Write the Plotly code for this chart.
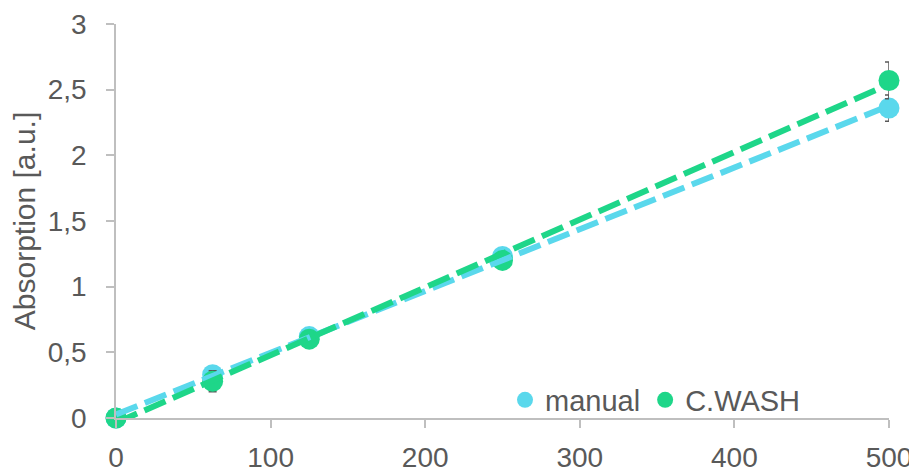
import numpy as np
import plotly.graph_objects as go

concentration = [0, 62.5, 125, 250, 500]
manual = [0.0, 0.33, 0.62, 1.23, 2.36]
manual_err = [0.01, 0.03, 0.02, 0.03, 0.10]
cwash = [0.0, 0.28, 0.60, 1.20, 2.57]
cwash_err = [0.01, 0.08, 0.02, 0.03, 0.14]

x_ticks = [0, 100, 200, 300, 400, 500]
y_ticks = [0, 0.5, 1, 1.5, 2, 2.5, 3]

C_MAN = "#5AD8EC"
C_CW = "#1ED689"
TXT = "#595959"
AX = "#BFBFBF"

fig = go.Figure()

def trend(xs, ys):
    k, b = np.polyfit(xs, ys, 1)
    xx = np.array([min(xs), max(xs)])
    return xx, k * xx + b

for name, ys, err, col in [("manual", manual, manual_err, C_MAN), ("C.WASH", cwash, cwash_err, C_CW)]:
    fig.add_trace(go.Scatter(
        x=concentration, y=ys, mode="markers", name=name,
        marker=dict(color=col, size=21),
        error_y=dict(type="data", array=err, color=TXT, thickness=1.5, width=4),
        cliponaxis=False,
    ))

for ys, col in [(manual, C_MAN), (cwash, C_CW)]:
    tx, ty = trend(concentration, ys)
    fig.add_trace(go.Scatter(
        x=tx, y=ty, mode="lines", showlegend=False,
        line=dict(color=col, width=6, dash="23px,8px"),
        cliponaxis=False,
    ))

# the page body has an 8px margin, so the figure is sized to the visible area
fig.update_layout(
    width=909, height=464,
    margin=dict(l=108, r=28, t=16, b=54),
    paper_bgcolor="white", plot_bgcolor="white",
    separators=", ",
    font=dict(family="Liberation Sans, Arial, sans-serif", color=TXT, size=28),
    showlegend=True,
    legend=dict(orientation="h", x=(806 - 116) / 773, y=(418 - 400) / 394,
                xanchor="right", yanchor="middle",
                font=dict(size=29, color=TXT), itemsizing="trace",
                bgcolor="rgba(0,0,0,0)", itemwidth=30),
)
fig.update_xaxes(
    range=[0, 500], tickvals=x_ticks, showgrid=False, zeroline=False,
    showline=True, linecolor=AX, linewidth=1.5,
    ticks="outside", ticklen=8, tickcolor=AX, tickwidth=1.5,
    ticklabelstandoff=6, automargin=False,
    tickfont=dict(size=28, color=TXT),
)
fig.update_yaxes(
    range=[0, 3], tickvals=y_ticks, showgrid=False, zeroline=False,
    showline=True, linecolor=AX, linewidth=1.5,
    ticks="outside", ticklen=8, tickcolor=AX, tickwidth=1.5,
    ticklabelstandoff=14, automargin=False,
    tickfont=dict(size=28, color=TXT),
    title=dict(text="Absorption [a.u.]", font=dict(size=30, color=TXT), standoff=4),
)

fig.write_html("out.html")
